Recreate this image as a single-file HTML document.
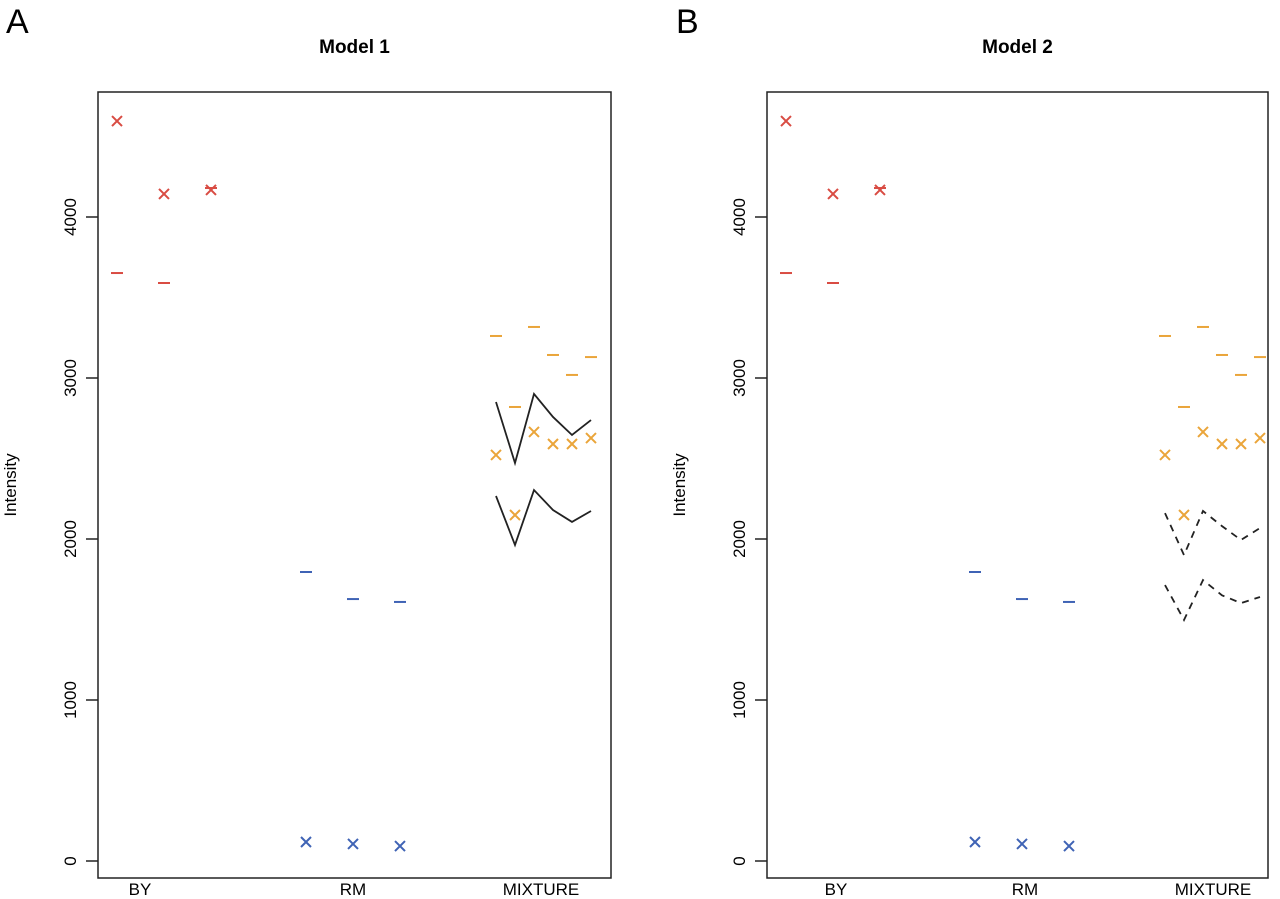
<!DOCTYPE html>
<html><head><meta charset="utf-8"><style>
body{margin:0;background:#fff;}
svg{display:block;font-family:"Liberation Sans",Arial,sans-serif;}
</style></head><body>
<svg id="c" width="1280" height="899"></svg>
<script>
const ticks=[0,1000,2000,3000,4000];
const categories=["BY","RM","MIXTURE"];
const byObs=[4596,4143,4168];
const byPred=[3652,3590,4180];
const rmPred=[1795,1627,1609];
const rmObs=[118,106,93];
const mixPred=[3261,2820,3317,3143,3019,3130];
const mixObs=[2522,2149,2665,2590,2590,2627];
const m1Upper=[2851,2472,2901,2758,2646,2739];
const m1Lower=[2267,1963,2304,2180,2106,2174];
const m2Upper=[2161,1900,2174,2080,1994,2068];
const m2Lower=[1714,1497,1745,1650,1602,1640];
const NS="http://www.w3.org/2000/svg";
const svg=document.getElementById('c');
function el(t,a,p){const e=document.createElementNS(NS,t);for(const k in a)e.setAttribute(k,a[k]);(p||svg).appendChild(e);return e;}
const y=v=>861-v*0.161;
const RED="#d94c43",BLUE="#3f63b5",ORANGE="#eaa53a";
function panel(o){
  const ox=o.ox,w=o.w;
  const g=el('g',{});
  
  
  const t=el('text',{x:o.lx,y:33,'font-size':34},g);t.textContent=o.letter;
  
  const tt=el('text',{x:ox+w/2,y:53,'font-size':19,'font-weight':'bold','text-anchor':'middle'},g);tt.textContent=o.title;
  
  const b=el('rect',{x:ox,y:92,width:w,height:786,fill:'none',stroke:'#222','stroke-width':1.5},g);
  
  ticks.forEach(v=>{
    el('line',{x1:ox-12,x2:ox,y1:y(v),y2:y(v),stroke:'#222','stroke-width':1.5},g);
    const l=el('text',{transform:`translate(${ox-22},${y(v)}) rotate(-90)`,'font-size':17,'text-anchor':'middle'},g);
    l.textContent=v;
  });
  const yt=el('text',{transform:`translate(${o.yl},485) rotate(-90)`,'font-size':17,'text-anchor':'middle'},g);
  yt.textContent='Intensity';
  categories.forEach((c,i)=>{const l=el('text',{x:o.cx[i],y:895,'font-size':17,'text-anchor':'middle'},g);l.textContent=c;
    });
  const bx=[0,1,2].map(i=>ox+19+i*47),rx=[0,1,2].map(i=>ox+208+i*47),mx=[0,1,2,3,4,5].map(i=>ox+398+i*19);
  function dash(x,v,c){const d=el('line',{x1:x-6,x2:x+6,y1:y(v),y2:y(v),stroke:c,'stroke-width':2},g);
    }
  function cross(x,v,c){const yy=y(v);
    const p=el('path',{d:`M${x-5},${yy-5}L${x+5},${yy+5}M${x+5},${yy-5}L${x-5},${yy+5}`,stroke:c,'stroke-width':2,fill:'none'},g);
    }
  byPred.forEach((v,i)=>dash(bx[i],v,RED));byObs.forEach((v,i)=>cross(bx[i],v,RED));
  rmPred.forEach((v,i)=>dash(rx[i],v,BLUE));rmObs.forEach((v,i)=>cross(rx[i],v,BLUE));
  mixPred.forEach((v,i)=>dash(mx[i],v,ORANGE));mixObs.forEach((v,i)=>cross(mx[i],v,ORANGE));
  [o.upper,o.lower].forEach((arr,k)=>{
    const p=el('polyline',{points:arr.map((v,i)=>mx[i]+','+y(v)).join(' '),fill:'none',stroke:'#222','stroke-width':1.8},g);
    if(o.dashed)p.setAttribute('stroke-dasharray','7,6');
    
  });
}
panel({ox:98,w:513,letter:'A',lx:6,title:'Model 1',yl:16,cx:[140,353,541],upper:m1Upper,lower:m1Lower,dashed:false});
panel({ox:767,w:501,letter:'B',lx:676,title:'Model 2',yl:685,cx:[836,1025,1213],upper:m2Upper,lower:m2Lower,dashed:true});
</script>
</body></html>
